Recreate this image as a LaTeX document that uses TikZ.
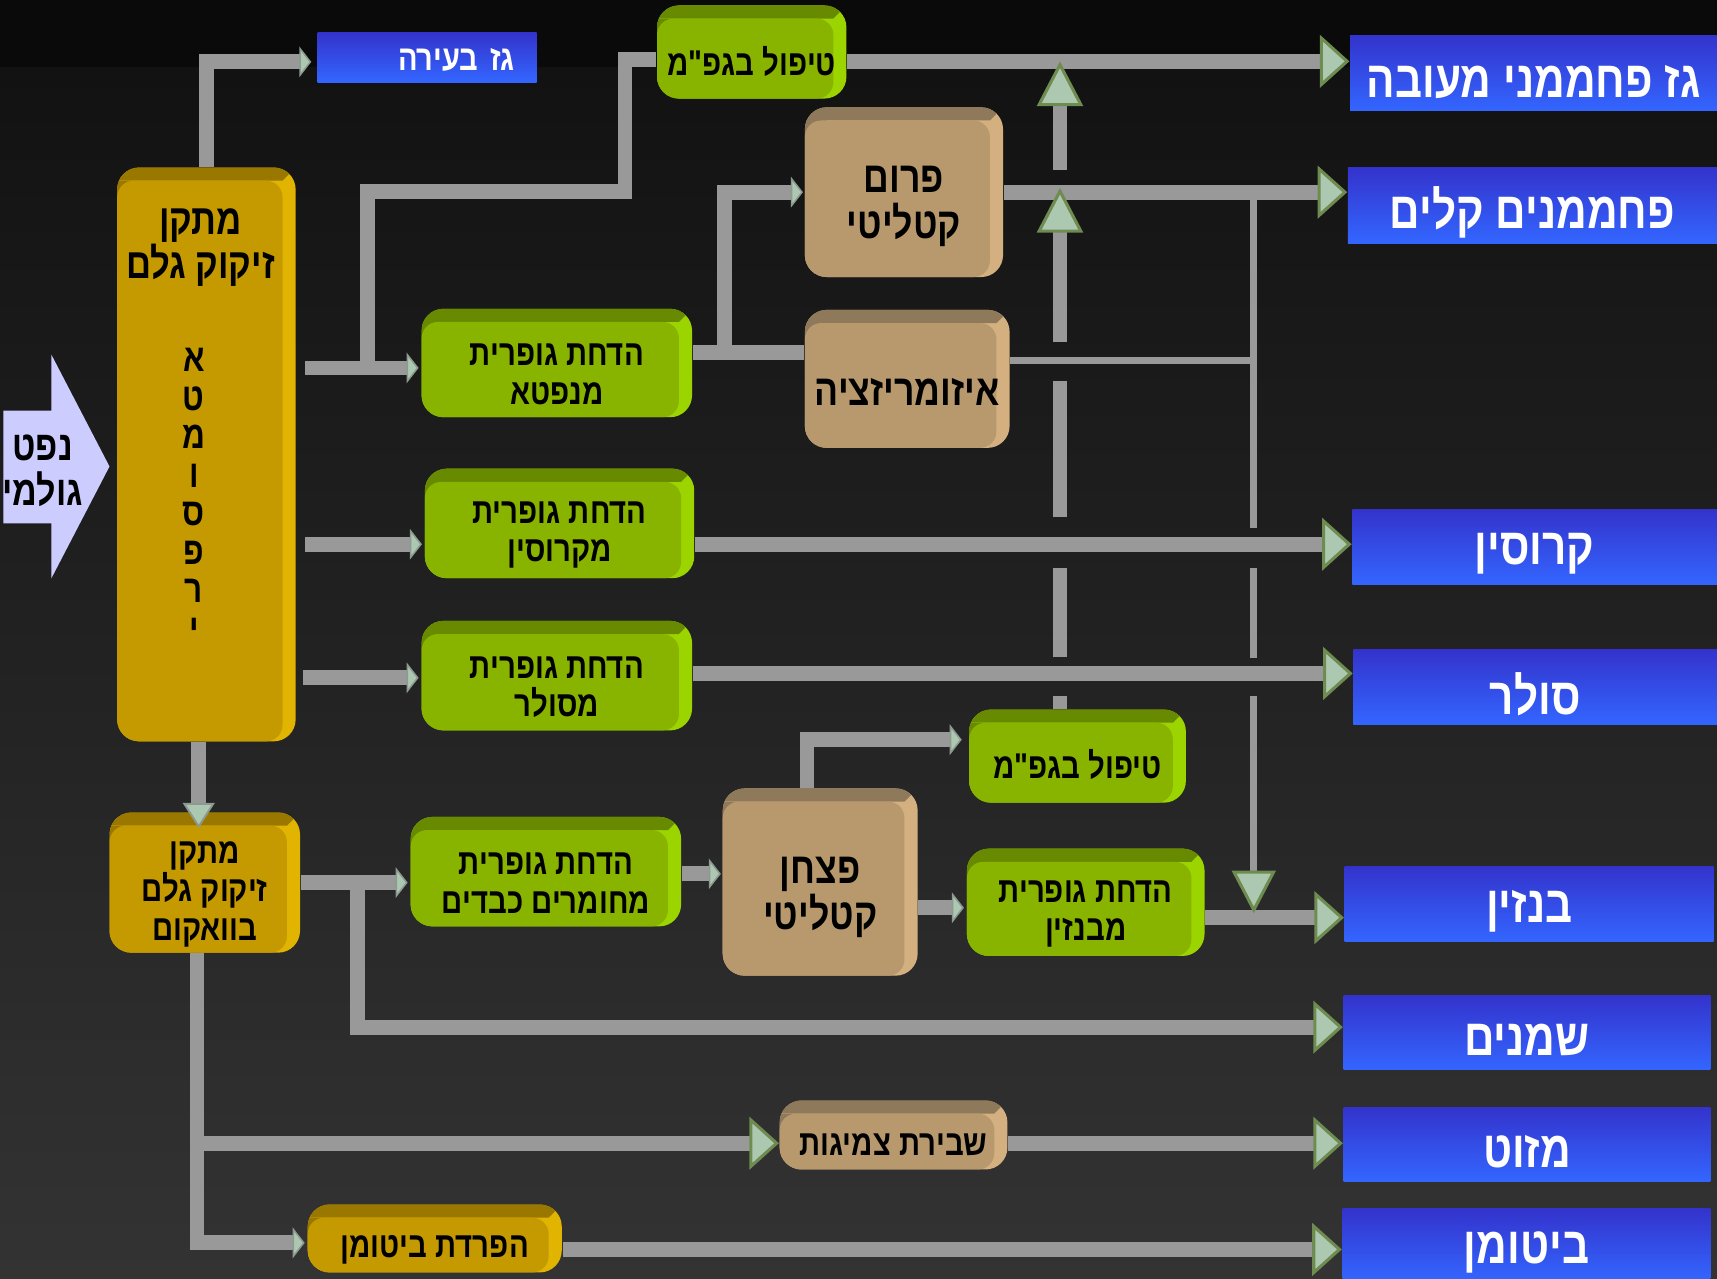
\documentclass[tikz,border=0pt]{standalone}
\usepackage{fontspec}
\usepackage{xcolor}
\usepackage{tikz}
\usetikzlibrary{arrows.meta,positioning,calc}
\newfontfamily\hebfont[Script=Hebrew,FakeStretch=0.82]{Liberation Sans}
\TeXXeTstate=1
% right-to-left line, lowered onto the front face of the box
\newcommand{\heb}[2][3pt]{\raisebox{-#1}[\height][\depth]{\beginR #2\endR}}

\definecolor{bgtop}{HTML}{0A0A0A}
\definecolor{bgmid}{HTML}{121212}
\definecolor{bgbot}{HTML}{333333}
\definecolor{pipe}{HTML}{999999}
\definecolor{tipfill}{HTML}{ADC8B0}
\definecolor{tipedge}{HTML}{6E8C50}
\definecolor{tipgray}{HTML}{8C9A92}
\definecolor{prodtop}{HTML}{3333CC}
\definecolor{prodbot}{HTML}{3366FF}
\definecolor{crudefill}{HTML}{CCCCFF}
\definecolor{grnface}{HTML}{88B400}
\definecolor{grntop}{HTML}{688A00}
\definecolor{grnside}{HTML}{9CD400}
\definecolor{tanface}{HTML}{B8996E}
\definecolor{tantop}{HTML}{8E7A5A}
\definecolor{tanside}{HTML}{D4B080}
\definecolor{gldface}{HTML}{C49A00}
\definecolor{gldtop}{HTML}{9A7800}
\definecolor{gldside}{HTML}{E0B400}

\tikzset{
  procbox/.style={rectangle, rounded corners=2mm, inner sep=0pt, align=center, text=black,
    font=\hebfont\bfseries\fontsize{9.3}{10}\selectfont,
    path picture={
      \fill[bvtop, sharp corners] (path picture bounding box.north west) -- (path picture bounding box.north east)
        -- ++(-1.2mm,-1.2mm) -- ([yshift=-1.2mm]path picture bounding box.north west) -- cycle;
      \fill[bvtop, sharp corners] ([yshift=-1.2mm]path picture bounding box.north west) rectangle ++(2mm,-2mm);
      \fill[bvface, rounded corners=1.5mm] ([yshift=-1.2mm]path picture bounding box.north west)
        rectangle ([xshift=-1.2mm]path picture bounding box.south east);
    }},
  greenbox/.style={procbox, fill=grnside, /utils/exec={\colorlet{bvtop}{grntop}\colorlet{bvface}{grnface}}},
  tanbox/.style={procbox, fill=tanside, /utils/exec={\colorlet{bvtop}{tantop}\colorlet{bvface}{tanface}}},
  goldbox/.style={procbox, fill=gldside, /utils/exec={\colorlet{bvtop}{gldtop}\colorlet{bvface}{gldface}}},
  bigtext/.style={font=\hebfont\bfseries\fontsize{11.3}{12}\selectfont},
  coltext/.style={inner sep=0pt, align=center, text=black, font=\hebfont\bfseries\fontsize{11}{11.5}\selectfont},
  prodbox/.style={rectangle, top color=prodtop, bottom color=prodbot, inner sep=0pt, text=white,
    minimum height=6.9mm, font=\hebfont\bfseries\fontsize{13.4}{15}\selectfont},
  flow/.style={draw=pipe, line width=1.35mm},
  thinflow/.style={draw=pipe, line width=0.65mm},
  infeed/.style={-{Triangle[length=1.1mm,width=2.8mm,fill=tipfill,color=tipgray,line width=0.4pt]}},
  outprod/.style={-{Triangle[length=2.7mm,width=4.8mm,fill=tipfill,color=tipedge,line width=0.8pt]}},
  upjoin/.style={-{Triangle[length=4.1mm,width=4.2mm,fill=tipfill,color=tipedge,line width=0.8pt]}},
  downjoin/.style={-{Triangle[length=3.9mm,width=4mm,fill=tipfill,color=tipedge,line width=0.8pt]}},
  dropin/.style={-{Triangle[length=2.3mm,width=2.9mm,fill=tipfill,color=tipgray,line width=0.5pt]}},
}

\begin{document}
\begin{tikzpicture}[x=0.1mm, y=-0.1mm]
  \useasboundingbox (0,0) rectangle (1568,1168);
  % background
  \fill[bgtop] (0,0) rectangle (1568,62);
  \shade[top color=bgmid, bottom color=bgbot] (0,62) rectangle (1568,1168);

  % crude oil feed
  \fill[crudefill] (3,375) -- (47,375) -- (47,324) -- (100,426) -- (47,528) -- (47,478) -- (3,478) -- cycle;
  \node[coltext, font=\hebfont\bfseries\fontsize{10.8}{11.5}\selectfont] (crude) at (39,430) {\heb[0pt]{נפט}\\\heb[0pt]{גולמי}};

  % distillation
  \node[goldbox, minimum width=16.3mm, minimum height=52.4mm] (atm) at (188.5,415) {};
  \node[coltext] (atmname) at (183,226) {\heb[0pt]{מתקן}\\\heb[0pt]{זיקוק גלם}};
  \node[coltext, font=\hebfont\bfseries\fontsize{10}{10}\selectfont] (atmvert) at (177,452) {א\\ט\\מ\\ו\\ס\\פ\\ר\\י};
  \node[goldbox, minimum width=17.4mm, minimum height=12.8mm] (vac) at (187,806) {\heb{מתקן}\\\heb{זיקוק גלם}\\\heb{בוואקום}};
  \node[goldbox, minimum width=23.2mm, minimum height=6.2mm] (bitsep) at (397,1131) {\heb{הפרדת ביטומן}};

  % treating units
  \node[greenbox, minimum width=17.3mm, minimum height=8.5mm] (lpgtop) at (686.5,47.5) {\heb[2.5pt]{טיפול בגפ"מ}};
  \node[greenbox, minimum width=24.7mm, minimum height=9.9mm] (hdsnaph) at (508.5,331.5) {\heb{הדחת גופרית}\\\heb{מנפטא}};
  \node[greenbox, minimum width=24.6mm, minimum height=10mm] (hdskero) at (511,478) {\heb{הדחת גופרית}\\\heb{מקרוסין}};
  \node[greenbox, minimum width=24.7mm, minimum height=10mm] (hdsdiesel) at (508.5,617) {\heb{הדחת גופרית}\\\heb{מסולר}};
  \node[greenbox, minimum width=24.7mm, minimum height=10mm] (hdsheavy) at (498.5,796) {\heb{הדחת גופרית}\\\heb{מחומרים כבדים}};
  \node[greenbox, minimum width=19.8mm, minimum height=8.5mm] (lpglow) at (984,690.5) {\heb[2.2pt]{טיפול בגפ"מ}};
  \node[greenbox, minimum width=21.7mm, minimum height=9.8mm] (hdsgas) at (991.5,824) {\heb{הדחת גופרית}\\\heb{מבנזין}};

  % conversion units
  \node[tanbox, bigtext, minimum width=18.1mm, minimum height=15.5mm] (reformer) at (825.5,175.5) {\heb[3.7pt]{פרום}\\\heb[3.7pt]{קטליטי}};
  \node[tanbox, bigtext, minimum width=18.7mm, minimum height=12.6mm] (isomer) at (828.5,346) {\heb[3.4pt]{איזומריזציה}};
  \node[tanbox, bigtext, minimum width=17.8mm, minimum height=17.1mm] (cracker) at (749,805.5) {\heb[4pt]{פצחן}\\\heb[4pt]{קטליטי}};
  \node[tanbox, minimum width=20.8mm, minimum height=6.3mm] (visbreak) at (816,1036.5) {\heb[2.6pt]{שבירת צמיגות}};

  % products
  \node[prodbox, minimum width=20mm, minimum height=4.5mm, text width=16mm, align=right,
    font=\hebfont\bfseries\fontsize{9.2}{10}\selectfont] (fuelgas) at (390,52.5) {\heb[0.6pt]{גז בעירה}};
  \node[prodbox, minimum width=33.5mm] (lpgprod) at (1400.5,66.5) {\heb[2.4pt]{גז פחממני מעובה}};
  \node[prodbox, minimum width=33.7mm] (lightprod) at (1399.5,187.5) {\heb[1.8pt]{פחממנים קלים}};
  \node[prodbox, minimum width=33.3mm] (keroprod) at (1401.5,499.5) {\heb[1.8pt]{קרוסין}};
  \node[prodbox, minimum width=33.2mm] (dieselprod) at (1402,627.5) {\heb[1.8pt]{סולר}};
  \node[prodbox, minimum width=33.7mm] (gasprod) at (1396.5,825.5) {\heb[1.8pt]{בנזין}};
  \node[prodbox, minimum width=33.5mm, minimum height=6.8mm] (oilprod) at (1394.5,943) {\heb[1.8pt]{שמנים}};
  \node[prodbox, minimum width=33.5mm, minimum height=6.8mm] (fuelprod) at (1394.5,1045) {\heb[1.8pt]{מזוט}};
  \node[prodbox, minimum width=33.6mm, minimum height=6.6mm] (bitprod) at (1394,1137) {\heb[1.8pt]{ביטומן}};

  % atmospheric column outlets
  \draw[flow, infeed] (atm.north) |- ($(fuelgas.west)+(-5,4)$);
  \coordinate (naphsplit) at ($(atm.east |- hdsnaph.west)+(8,4.5)$);
  \coordinate (gasbranch) at ($(naphsplit)+(57,0)$);
  \draw[flow, infeed] (naphsplit) -- ($(hdsnaph.west)+(-2,4.5)$);
  \draw[flow] (gasbranch) |- ++(235,-161) |- ($(lpgtop.west)+(0,6.5)$);
  \draw[flow, infeed] ($(atm.east |- hdskero.west)+(8,19)$) -- ($(hdskero.west)+(-2,19)$);
  \draw[flow, infeed] ($(atm.east |- hdsdiesel.west)+(6,2)$) -- ($(hdsdiesel.west)+(-2,2)$);

  % light ends
  \draw[flow, outprod] ($(lpgtop.east)+(0,8.5)$) -- ($(lpgtop.east -| lpgprod.west)+(0,8.5)$);
  \draw[flow] ($(hdsnaph.east)+(0,-9.5)$) -- ($(hdsnaph.east -| isomer.west)+(0,-9.5)$);
  \draw[flow, infeed] ($(hdsnaph.east)+(29,-9.5)$) |- ($(reformer.west)+(-1,0)$);
  \draw[flow, outprod] (reformer.east) -- (reformer.east -| lightprod.west);
  \draw[flow, outprod] ($(hdskero.east)+(0,19)$) -- ($(hdskero.east -| keroprod.west)+(0,19)$);
  \draw[flow, outprod] ($(hdsdiesel.east)+(0,-2)$) -- ($(hdsdiesel.east -| dieselprod.west)+(0,-2)$);

  % vacuum and heavy ends
  \coordinate (atmbot) at ($(atm.south)+(-7,0)$);
  \draw[flow, dropin] (atmbot) -- ($(atmbot |- vac.north)+(0,15)$);
  \coordinate (oilsplit) at ($(vac.east)+(52,0)$);
  \draw[flow, infeed] (vac.east) -- ($(vac.east -| hdsheavy.west)+(-2,0)$);
  \draw[flow, outprod] (oilsplit) |- ($(oilprod.west)+(0,-5)$);
  \draw[flow, infeed] ($(hdsheavy.east)+(0,2)$) -- ($(hdsheavy.east -| cracker.west)+(-1,2)$);
  \draw[flow, infeed] ($(cracker.north)+(-12,0)$) |- ($(lpglow.west)+(-6,-15)$);
  \draw[flow, infeed] ($(cracker.east)+(0,23.5)$) -- ($(cracker.east -| hdsgas.west)+(-2,23.5)$);
  \draw[flow, outprod] ($(hdsgas.east)+(0,14)$) -- ($(hdsgas.east -| gasprod.west)+(0,14)$);
  \coordinate (vacbot) at ($(vac.south)+(-7,0)$);
  \draw[flow, infeed] (vacbot) |- ($(bitsep.west)+(-2,4)$);
  \draw[flow, outprod] ($(vacbot |- visbreak.west)+(0,7.5)$) -- ($(visbreak.west)+(0,7.5)$);
  \draw[flow, outprod] ($(visbreak.east)+(0,7.5)$) -- ($(visbreak.east -| fuelprod.west)+(0,7.5)$);
  \draw[flow, outprod] ($(bitsep.east)+(0,10)$) -- ($(bitsep.east -| bitprod.west)+(0,10)$);

  % isomerate and light naphtha to gasoline
  \coordinate (lighttap) at (1145,181);
  \draw[thinflow] ($(isomer.east)+(0,-17)$) -- ($(isomer.east -| lighttap)+(0,-17)$);
  \draw[thinflow] (lighttap) -- ++(0,301);
  \draw[thinflow] ($(lighttap)+(0,338)$) -- ++(0,82);
  \draw[thinflow, downjoin] ($(lighttap)+(0,455)$) -- ($(hdsgas.east -| lighttap)+(0,10)$);

  % LPG riser
  \coordinate (lpgriser) at ($(lpglow.north)+(-16,0)$);
  \draw[flow] (lpgriser) -- ++(0,-12);
  \draw[flow] ($(lpgriser)+(0,-47)$) -- ++(0,-82);
  \draw[flow] ($(lpgriser)+(0,-175)$) -- ++(0,-124);
  \draw[flow, upjoin] ($(lpgriser)+(0,-335)$) -- ($(lpgriser |- reformer.east)+(0,-4)$);
  \draw[flow, upjoin] ($(lpgriser)+(0,-492)$) -- ($(lpgriser |- lpgtop.east)+(0,8.5)$);
\end{tikzpicture}
\end{document}
